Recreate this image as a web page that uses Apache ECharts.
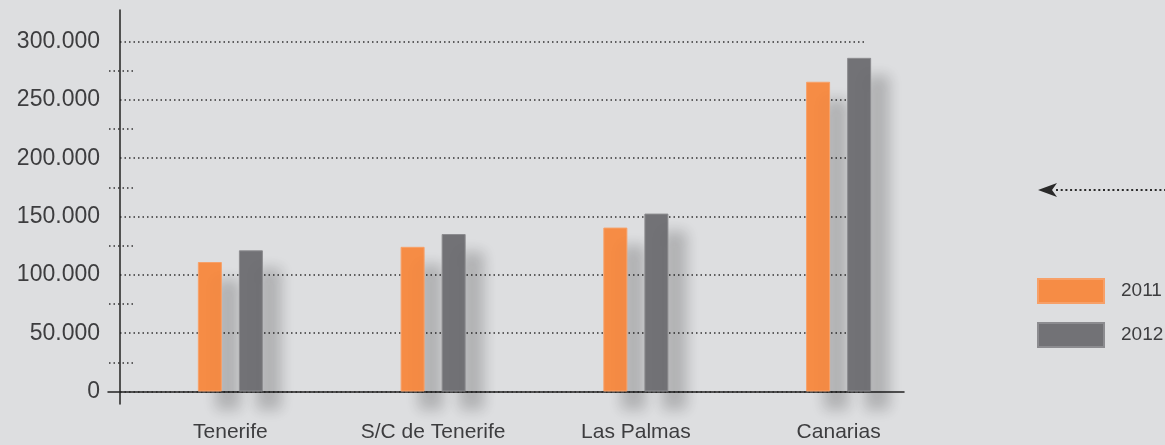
<!DOCTYPE html>
<html>
<head>
<meta charset="utf-8">
<script src="https://cdn.jsdelivr.net/npm/echarts@6/dist/echarts.min.js"></script>
<style>
  html, body { margin: 0; padding: 0; background: #dddee0; }
  #chart { width: 1165px; height: 445px; }
</style>
</head>
<body>
<div id="chart"></div>
<script>
// datos
const categories = ['Tenerife', 'S/C de Tenerife', 'Las Palmas', 'Canarias']
const years = ['2011', '2012']
const values2011 = [111000, 124000, 140500, 265500]
const values2012 = [121000, 135000, 152500, 286000]
const yTickLabels = ['0', '50.000', '100.000', '150.000', '200.000', '250.000', '300.000']
const yStep = 50000
const yMax = 300000

const textColor = '#3d3d3f'
const fontFamily = '"Liberation Sans", Arial, sans-serif'
const dotted = [1.5, 3]

const chart = echarts.init(document.getElementById('chart'))

const barStyle = (color, border) => ({
  color: color,
  borderColor: border,
  borderWidth: 1,
  shadowColor: 'rgba(0, 0, 0, 0.2)',
  shadowBlur: 14,
  shadowOffsetX: 18,
  shadowOffsetY: 18
})

chart.setOption({
  backgroundColor: '#dddee0',
  animation: false,
  textStyle: { fontFamily: fontFamily },
  grid: [
    // barras
    { left: 129, right: 225, top: 41.5, bottom: 53.5 },
    // lineas de los ejes
    { left: 108, right: 261, top: 10, bottom: 41 },
    // lineas punteadas
    { left: 120, right: 301, top: 41.5, bottom: 53.5 }
  ],
  legend: {
    data: years,
    orient: 'vertical',
    left: 1032,
    top: 273,
    icon: 'rect',
    itemWidth: 66,
    itemHeight: 24,
    itemGap: 18,
    selectedMode: false,
    itemStyle: { shadowBlur: 0, shadowOffsetX: 0, shadowOffsetY: 0, shadowColor: 'transparent' },
    textStyle: { fontSize: 19, color: textColor, padding: [0, 0, 0, 12] }
  },
  xAxis: [
    {
      gridIndex: 0,
      type: 'category',
      data: categories,
      axisLine: { show: false },
      axisTick: { show: false },
      axisLabel: { fontSize: 21, color: textColor, margin: 30 }
    },
    {
      gridIndex: 1,
      type: 'value',
      min: 0,
      max: 1,
      offset: -12,
      axisLine: { show: true, lineStyle: { color: '#222', width: 1.5 } },
      axisTick: { show: false },
      axisLabel: { show: false },
      splitLine: { show: false }
    },
    {
      gridIndex: 2,
      type: 'value',
      min: 0,
      max: 1,
      show: false
    }
  ],
  yAxis: [
    {
      gridIndex: 0,
      type: 'value',
      min: 0,
      max: yMax,
      interval: yStep,
      axisLine: { show: false },
      axisTick: { show: false },
      splitLine: { show: false },
      axisLabel: {
        fontSize: 23,
        color: textColor,
        margin: 29,
        formatter: v => yTickLabels[Math.round(v / yStep)]
      }
    },
    {
      gridIndex: 1,
      type: 'value',
      min: 0,
      max: 1,
      offset: -12,
      axisLine: { show: true, lineStyle: { color: '#222', width: 1.5 } },
      axisTick: { show: false },
      axisLabel: { show: false },
      splitLine: { show: false }
    },
    {
      gridIndex: 2,
      type: 'value',
      min: 0,
      max: yMax,
      interval: yStep,
      offset: -13,
      axisLine: { show: false },
      axisTick: { show: false },
      axisLabel: { show: false },
      minorTick: { show: true, splitNumber: 2, length: 24, lineStyle: { color: '#333', type: dotted, width: 1.5 } },
      splitLine: { show: true, lineStyle: { color: '#333', type: dotted, width: 1.5 } }
    }
  ],
  series: [
    {
      name: years[0],
      type: 'bar',
      xAxisIndex: 0,
      yAxisIndex: 0,
      data: values2011,
      barWidth: 24,
      barGap: '71%',
      itemStyle: barStyle('#f68c45', '#f7a068'),
      emphasis: { disabled: true }
    },
    {
      name: years[1],
      type: 'bar',
      xAxisIndex: 0,
      yAxisIndex: 0,
      data: values2012,
      barWidth: 24,
      barGap: '71%',
      itemStyle: barStyle('#727276', '#8c8c90'),
      emphasis: { disabled: true }
    }
  ],
  graphic: [
    {
      type: 'line',
      shape: { x1: 1056, y1: 190, x2: 1165, y2: 190 },
      style: { stroke: '#2a2a2a', lineWidth: 2, lineDash: [2, 2.7] }
    },
    {
      type: 'polygon',
      shape: { points: [[1038, 190], [1057, 183], [1052, 190], [1057, 197]] },
      style: { fill: '#2a2a2a' }
    }
  ]
})
</script>
</body>
</html>
